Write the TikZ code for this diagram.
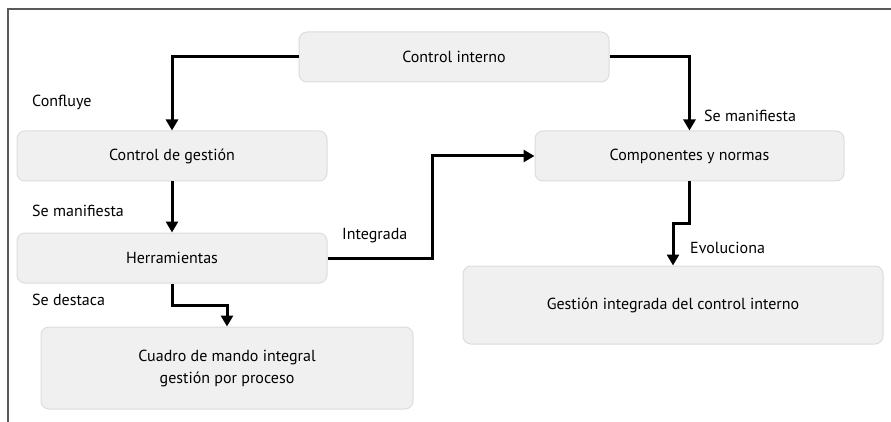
\documentclass[tikz,border=0pt]{standalone}
\usepackage{fontspec}
\setmainfont{PT Sans}
\usetikzlibrary{arrows.meta}
\definecolor{boxfill}{HTML}{F0F0F0}
\definecolor{boxline}{HTML}{DCDCDC}
\definecolor{framecol}{HTML}{5A5A5A}
\begin{document}
\begin{tikzpicture}[x=1pt,y=-1pt,
  box/.style={draw=boxline, fill=boxfill, line width=1pt, rounded corners=8pt,
    minimum height=50pt, align=center, inner sep=0pt, font=\fontsize{16}{22}\selectfont},
  arr/.style={line width=3pt, -{Triangle[width=12pt,length=11pt]}},
  lbl/.style={anchor=west, inner sep=0pt, font=\fontsize{16}{19}\selectfont}]
\useasboundingbox (0,0) rectangle (891,422);
\draw[framecol, line width=1.5pt] (8,422) -- (8,9) -- (891,9);
\node[box, minimum width=310pt] (ci) at (454,57) {Control interno};
\node[box, minimum width=310pt] (cg) at (172,156) {Control de gestión};
\node[box, minimum width=309pt] (cn) at (689.5,156) {Componentes y normas};
\node[box, minimum width=310pt] (he) at (172,258) {Herramientas};
\node[box, minimum width=372pt, minimum height=82pt] (cm) at (227,368) {Cuadro de mando integral\\gestión por proceso};
\node[box, minimum width=420pt, minimum height=78pt] (gi) at (673,305) {Gestión integrada del control interno};
\coordinate (j1) at (432,200);
\draw[arr] (ci.west) -| (cg.north);
\draw[arr] (ci.east) -| (cn.north);
\draw[arr] (cg.south) -- (he.north);
\draw[arr] (he.south) -- ++(0,22) -| (cm.north);
\draw[arr] (he.east) -- (he.east -| j1) -- (cn.west -| j1) -- (cn.west);
\draw[arr] (cn.south) -- ++(0,42) -| (gi.north);
\node[lbl] (l1) at (32,102) {Confluye};
\node[lbl] (l2) at (32,211) {Se manifiesta};
\node[lbl] (l3) at (32,300) {Se destaca};
\node[lbl] (l4) at (342,236) {Integrada};
\node[lbl] (l5) at (704,116) {Se manifiesta};
\node[lbl] (l6) at (690,248) {Evoluciona};
\end{tikzpicture}
\end{document}
